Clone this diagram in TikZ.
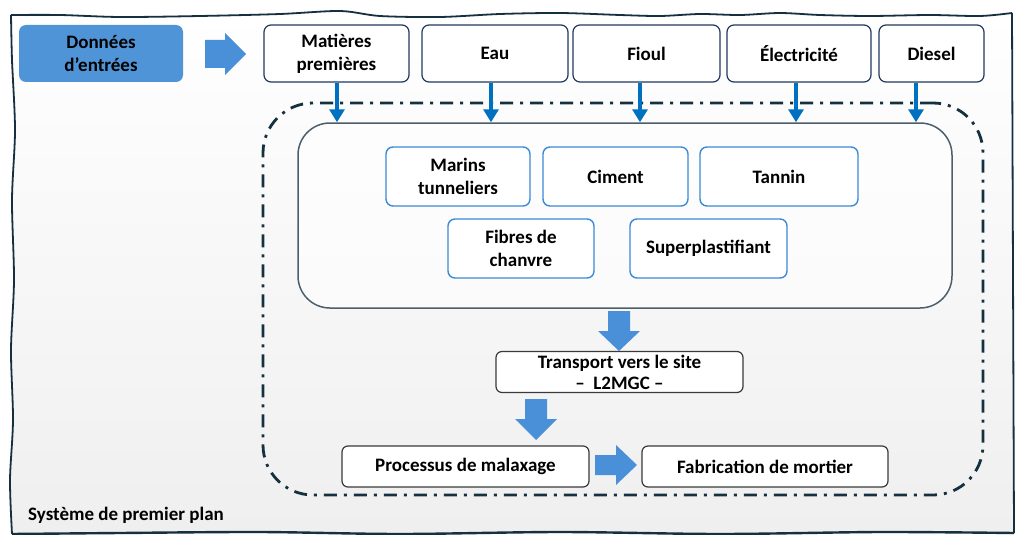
\documentclass[tikz,border=0pt]{standalone}
\usepackage{fontspec}
\setmainfont{Carlito}
\usetikzlibrary{arrows.meta,calc}
\definecolor{navy}{HTML}{22385F}
\definecolor{framec}{HTML}{173040}
\definecolor{dashc}{HTML}{15303F}
\definecolor{ibord}{HTML}{3A8AD8}
\definecolor{dataf}{HTML}{5094D8}
\definecolor{barrow}{HTML}{4A90D9}
\definecolor{sarrowc}{HTML}{0070C0}
\definecolor{gbord}{HTML}{3A3A3A}
\definecolor{innerb}{HTML}{4D5E6B}
\definecolor{bgbot}{HTML}{EFEFEF}
\tikzset{
  txt/.style={font=\fontsize{19}{23}\selectfont\bfseries, text=black, align=center, inner sep=0pt},
  topbox/.style={txt, draw=navy, line width=1.2pt, rounded corners=7pt, fill=white, minimum height=57pt},
  databox/.style={txt, fill=dataf, rounded corners=7pt, minimum height=57pt},
  matbox/.style={txt, draw=ibord, line width=1.4pt, rounded corners=7pt, fill=white, minimum height=59pt},
  stepbox/.style={txt, draw=gbord, line width=1.2pt, rounded corners=6pt, fill=white, minimum height=41pt},
  sarrow/.style={draw=sarrowc, line width=4pt, -{Triangle[width=15pt,length=13pt]}},
  blockarrow/.style={fill=barrow},
}
\begin{document}
\begin{tikzpicture}[x=1pt,y=-1pt]
\useasboundingbox (0,0) rectangle (1015,535);
% wavy frame with background
\path[top color=white, bottom color=bgbot]
  plot[smooth] coordinates {(11,15) (60,15) (120,17) (200,16) (280,14) (340,11) (380,16) (440,17) (500,14) (560,13) (620,15) (660,16) (700,14) (740,15) (780,13) (820,15) (870,16) (930,15) (980,16) (1012,13)}
  -- (1014,533) -- (12,533)
  plot[smooth] coordinates {(12,533) (10,480) (13,420) (11,350) (14,280) (12,200) (15,130) (12,60) (11,15)} -- cycle;
\draw[framec, line width=1.8pt]
  plot[smooth] coordinates {(11,15) (60,15) (120,17) (200,16) (280,14) (340,11) (380,16) (440,17) (500,14) (560,13) (620,15) (660,16) (700,14) (740,15) (780,13) (820,15) (870,16) (930,15) (980,16) (1012,13)};
\draw[framec, line width=1.8pt]
  plot[smooth] coordinates {(12,534) (10,480) (13,420) (11,350) (14,280) (12,200) (15,130) (12,60) (11,15)};
\draw[framec, line width=2.4pt]
  plot[smooth] coordinates {(12,534) (120,533) (260,532) (400,534) (560,532) (720,534) (880,532) (1014,533)};
\draw[framec, line width=1.8pt] (1012,13) -- (1014,533);

% dash-dot system boundary
\node[draw=dashc, line width=2.8pt, rounded corners=50pt, dash pattern=on 13pt off 7pt on 3pt off 7pt,
      minimum width=720pt, minimum height=392pt, inner sep=0pt] (sys) at (623,299) {};
% inner container
\node[draw=innerb, line width=1.5pt, rounded corners=32pt, fill=white, fill opacity=0.6, draw opacity=1,
      minimum width=654pt, minimum height=185pt, inner sep=0pt] (inner) at (625,215.5) {};

% input row
\node[databox, minimum width=164pt] (don) at (101,53.5) {Données\\d’entrées};
\node[topbox, minimum width=145pt] (mat) at (336.5,53.5) {Matières\\premières};
\node[topbox, minimum width=146pt] (eau) at (495,53.5) {Eau};
\node[topbox, minimum width=147pt] (fioul) at (646.5,53.5) {Fioul};
\node[topbox, minimum width=144pt] (elec) at (799,53.5) {Électricité};
\node[topbox, minimum width=105pt] (diesel) at (931.5,53.5) {Diesel};

% materials
\node[matbox, minimum width=144pt] (marins) at (458,176.5) {Marins\\tunneliers};
\node[matbox, minimum width=145pt] (ciment) at (615.5,176.5) {Ciment};
\node[matbox, minimum width=158pt] (tannin) at (779,176.5) {Tannin};
\node[matbox, minimum width=146pt] (fibres) at (521,248.5) {Fibres de\\chanvre};
\node[matbox, minimum width=157pt] (super) at (708.5,248.5) {Superplastifiant};

% process steps
\node[stepbox, minimum width=247pt, font=\fontsize{19}{22}\selectfont\bfseries] (trans) at (619.5,372) {Transport vers le site\\[-1pt]–\ \ L2MGC –};
\node[stepbox, minimum width=247pt] (proc) at (465.5,466.5) {Processus de malaxage};
\node[stepbox, minimum width=246pt] (fab) at (765,466.5) {Fabrication de mortier};

\node[txt, anchor=base west] (label) at (28,520) {Système de premier plan};

% small arrows
\draw[sarrow] ($(mat.south)+(0.5,0)$) -- ($(mat.south |- inner.north)+(0.5,0)$);
\draw[sarrow] ($(eau.south)+(-4,0)$) -- ($(eau.south |- inner.north)+(-4,0)$);
\draw[sarrow] ($(fioul.south)+(-6.5,0)$) -- ($(fioul.south |- inner.north)+(-6.5,0)$);
\draw[sarrow] ($(elec.south)+(-3,0)$) -- ($(elec.south |- inner.north)+(-3,0)$);
\draw[sarrow] ($(diesel.south)+(-15.5,0)$) -- ($(diesel.south |- inner.north)+(-15.5,0)$);

% block arrows
\fill[blockarrow] (205,40) -- (225,40) -- (225,33) -- (246,54) -- (225,75) -- (225,68) -- (205,68) -- cycle;
\fill[blockarrow] (608,311) -- (630,311) -- (630,331) -- (640,331) -- (619,351) -- (598,331) -- (608,331) -- cycle;
\fill[blockarrow] (525,399) -- (547,399) -- (547,419) -- (557,419) -- (536,440) -- (515,419) -- (525,419) -- cycle;
\fill[blockarrow] (595,455) -- (616,455) -- (616,445) -- (637,465) -- (616,485) -- (616,475) -- (595,475) -- cycle;
\end{tikzpicture}
\end{document}
